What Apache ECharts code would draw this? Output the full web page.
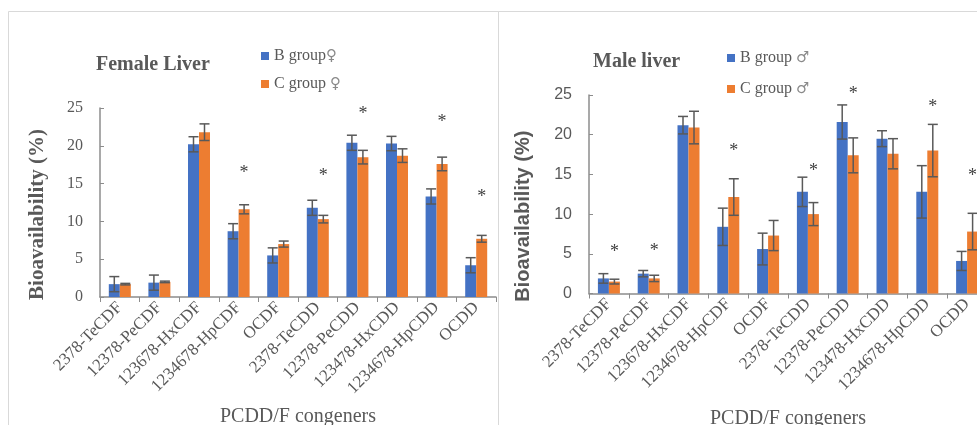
<!DOCTYPE html>
<html>
<head>
<meta charset="utf-8">
<script src="https://cdn.jsdelivr.net/npm/echarts@6/dist/echarts.min.js"></script>
<style>html,body{margin:0;padding:0;background:#fff;}#c{width:977px;height:425px;}</style>
</head>
<body>
<div id="c"></div>
<script>
const categories = ['2378-TeCDF','12378-PeCDF','123678-HxCDF','1234678-HpCDF','OCDF','2378-TeCDD','12378-PeCDD','123478-HxCDD','1234678-HpCDD','OCDD'];
const yTicks = [0, 5, 10, 15, 20, 25];

const femaleB    = [1.7, 1.9, 20.2, 8.7, 5.5, 11.8, 20.4, 20.3, 13.3, 4.2];
const femaleBErr = [1.0, 1.0, 1.0, 1.0, 1.0, 1.0, 1.0, 0.95, 1.0, 1.0];
const femaleC    = [1.7, 2.0, 21.8, 11.6, 7.0, 10.3, 18.5, 18.7, 17.6, 7.7];
const femaleCErr = [0.1, 0.1, 1.1, 0.6, 0.4, 0.5, 0.9, 0.9, 0.9, 0.45];
const femaleStars = [null, null, null, 17.0, null, 16.6, 24.8, null, 23.8, 13.8];

const maleB    = [1.9, 2.5, 21.2, 8.4, 5.6, 12.8, 21.6, 19.5, 12.8, 4.1];
const maleBErr = [0.6, 0.4, 1.1, 2.35, 2.0, 1.85, 2.15, 1.0, 3.3, 1.2];
const maleC    = [1.5, 1.9, 20.9, 12.15, 7.3, 10.0, 17.4, 17.6, 18.0, 7.8];
const maleCErr = [0.3, 0.4, 2.05, 2.3, 1.9, 1.45, 2.2, 1.9, 3.3, 2.3];
const maleStars = [5.8, 5.9, null, 18.5, null, 16.0, 25.7, null, 24.05, 15.4];

const names = ['B group\u2640', 'C group \u2640', 'B group \u2642', 'C group \u2642'];

const SERIF = "'Liberation Serif', 'Times New Roman', serif";
const SANS = "'Liberation Sans', Arial, sans-serif";
const BLUE = '#4472C4', ORANGE = '#ED7D31', TXT = '#595959', AX = '#8c8c8c';
const BW = 11;

function errData(vals, errs) { return vals.map((v, i) => [i, v, errs[i]]); }
function starData(stars) { const out = []; stars.forEach((s, i) => { if (s != null) out.push([i, s]); }); return out; }

function errSeries(vals, errs, side, gi) {
  return {
    type: 'custom', xAxisIndex: gi, yAxisIndex: gi, z: 5, silent: true,
    data: errData(vals, errs),
    encode: { x: 0, y: 1 },
    renderItem: function (params, api) {
      const i = api.value(0), v = api.value(1), e = api.value(2);
      const hi = api.coord([i, v + e]);
      const lo = api.coord([i, v - e]);
      const x = hi[0] + side * BW / 2;
      const c = 5;
      const st = { stroke: '#595959', lineWidth: 1.5 };
      return { type: 'group', children: [
        { type: 'line', shape: { x1: x, y1: hi[1], x2: x, y2: lo[1] }, style: st },
        { type: 'line', shape: { x1: x - c, y1: hi[1], x2: x + c, y2: hi[1] }, style: st },
        { type: 'line', shape: { x1: x - c, y1: lo[1], x2: x + c, y2: lo[1] }, style: st }
      ]};
    }
  };
}
function starSeries(stars, gi) {
  return {
    type: 'custom', xAxisIndex: gi, yAxisIndex: gi, z: 6, silent: true,
    data: starData(stars), encode: { x: 0, y: 1 },
    renderItem: function (params, api) {
      const p = api.coord([api.value(0), api.value(1)]);
      return { type: 'text', x: p[0] + BW / 2, y: p[1] + 5,
        style: { text: '*', font: '18px ' + SERIF, fill: '#404040', textAlign: 'center', textVerticalAlign: 'middle' } };
    }
  };
}

function xAxis(gi, gap) {
  return {
    type: 'category', gridIndex: gi, data: categories,
    axisLine: { lineStyle: { color: AX, width: 1.5 } },
    axisTick: { show: true, length: 5, inside: false, lineStyle: { color: AX } },
    axisLabel: { rotate: 45, fontFamily: SERIF, fontSize: 17, color: TXT, margin: 8, interval: 0 },
    name: 'PCDD/F congeners', nameLocation: 'middle', nameGap: gap,
    nameTextStyle: { fontFamily: SERIF, fontSize: 20, color: TXT }
  };
}
function yAxis(gi, font, nameFont, pad, gap) {
  return {
    type: 'value', gridIndex: gi, min: yTicks[0], max: yTicks[yTicks.length - 1], interval: 5,
    splitLine: { show: false },
    axisLine: { show: true, lineStyle: { color: AX, width: 1.5 } },
    axisTick: { show: true, inside: true, length: 4, lineStyle: { color: AX } },
    axisLabel: { fontFamily: font, fontSize: 16, color: TXT, margin: 17 },
    name: 'Bioavailability (%)', nameLocation: 'middle', nameGap: gap, nameRotate: 90,
    nameTextStyle: { fontFamily: nameFont, fontSize: nameFont === SERIF ? 21 : 20, fontWeight: 'bold', color: TXT, padding: pad }
  };
}

const legendText = {
  fontFamily: SERIF, fontSize: 16, color: TXT, lineHeight: 16,
  rich: { s: { fontFamily: "'DejaVu Sans', sans-serif", fontSize: 15, color: '#8a8a8a', lineHeight: 16 } }
};
function legendFmt(name) { return name.replace(/([\u2640\u2642])/, '{s|$1}'); }

const chart = echarts.init(document.getElementById('c'), null, { renderer: 'canvas' });
chart.setOption({
  animation: false,
  backgroundColor: '#fff',
  graphic: [
    { type: 'rect', shape: { x: 8.5, y: 11.5, width: 490, height: 500 }, style: { fill: 'none', stroke: '#d9d9d9', lineWidth: 1 }, z: -10 },
    { type: 'rect', shape: { x: 498.5, y: 11.5, width: 500, height: 500 }, style: { fill: 'none', stroke: '#d9d9d9', lineWidth: 1 }, z: -10 }
  ],
  title: [
    { text: 'Female Liver', left: 96, top: 55, padding: 0, textStyle: { fontFamily: SERIF, fontSize: 20, fontWeight: 'bold', color: TXT } },
    { text: 'Male liver', left: 593, top: 52, padding: 0, textStyle: { fontFamily: SERIF, fontSize: 20, fontWeight: 'bold', color: TXT } }
  ],
  legend: [
    { data: [names[0], names[1]], orient: 'vertical', left: 261, top: 48, padding: 0, itemWidth: 8, itemHeight: 8, itemGap: 12,
      icon: 'rect', formatter: legendFmt, textStyle: legendText },
    { data: [names[2], names[3]], orient: 'vertical', left: 727, top: 50, padding: 0, itemWidth: 8, itemHeight: 8, itemGap: 15,
      icon: 'rect', formatter: legendFmt, textStyle: legendText }
  ],
  grid: [
    { left: 100, top: 108, width: 396, height: 189, containLabel: false, outerBoundsMode: 'none' },
    { left: 589, top: 95, width: 398, height: 198.5, containLabel: false, outerBoundsMode: 'none' }
  ],
  xAxis: [xAxis(0, 110), xAxis(1, 115)],
  yAxis: [yAxis(0, SERIF, SERIF, [0, 24, 0, 0], 52), yAxis(1, SANS, SANS, [0, 44, 0, 0], 56)],
  series: [
    { name: names[0], type: 'bar', xAxisIndex: 0, yAxisIndex: 0, data: femaleB, barWidth: BW, barGap: '0%', itemStyle: { color: BLUE } },
    { name: names[1], type: 'bar', xAxisIndex: 0, yAxisIndex: 0, data: femaleC, barWidth: BW, barGap: '0%', itemStyle: { color: ORANGE } },
    { name: names[2], type: 'bar', xAxisIndex: 1, yAxisIndex: 1, data: maleB, barWidth: BW, barGap: '0%', itemStyle: { color: BLUE } },
    { name: names[3], type: 'bar', xAxisIndex: 1, yAxisIndex: 1, data: maleC, barWidth: BW, barGap: '0%', itemStyle: { color: ORANGE } },
    errSeries(femaleB, femaleBErr, -1, 0),
    errSeries(femaleC, femaleCErr, 1, 0),
    errSeries(maleB, maleBErr, -1, 1),
    errSeries(maleC, maleCErr, 1, 1),
    starSeries(femaleStars, 0),
    starSeries(maleStars, 1)
  ]
});
</script>
</body>
</html>
